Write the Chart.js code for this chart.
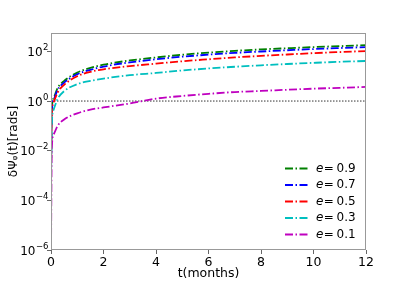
<!DOCTYPE html>
<html>
<head>
<meta charset="utf-8">
<script src="https://cdn.jsdelivr.net/npm/chart.js@4.4.0/dist/chart.umd.min.js"></script>
<style>
  html, body { margin: 0; padding: 0; background: #fff; }
</style>
</head>
<body>
<canvas id="dephaseChart" width="407" height="282"></canvas>
<script>
// time in months
const months = [0.0005, 0.03, 0.1, 0.25, 0.5, 1, 1.5, 2, 3, 4, 5, 6, 7, 8, 9, 10, 11, 12];

// dephasing (rads)
const e09 = [0.002, 0.45, 1.3, 3.3, 6.5, 14, 21.5, 29, 43, 57, 73, 89, 105, 120, 134, 149, 163, 178];
const e07 = [0.0016, 0.38, 1.1, 2.8, 5.5, 12, 18, 24.5, 36, 48, 61, 74, 87, 99, 111, 124, 136, 148];
const e05 = [0.0011, 0.28, 0.9, 2.2, 4.5, 10, 15, 19, 25.5, 32, 40, 48, 57, 66, 75, 85, 94, 103];
const e03 = [0.0005, 0.12, 0.45, 1.2, 2.5, 4.8, 6.5, 8, 11, 13.5, 17, 20.5, 24, 27.5, 31, 34.5, 38, 41];
const e01 = [0.000001, 0.012, 0.045, 0.1, 0.18, 0.32, 0.45, 0.55, 0.8, 1.25, 1.6, 1.95, 2.3, 2.55, 2.85, 3.15, 3.4, 3.7];

const eccLabels = ['0.9', '0.7', '0.5', '0.3', '0.1'];
const seriesList = [e09, e07, e05, e03, e01];
const lineColors = ['#008000', '#0000ff', '#ff0000', '#00bfbf', '#bf00bf'];

const refLevel = 1;  // dotted line at 10^0
const xTickValues = [0, 2, 4, 6, 8, 10, 12];
const yTickValues = [1e-6, 1e-4, 1e-2, 1, 1e2];
const yTickExps = ['\u22126', '\u22124', '\u22122', '0', '2'];

const FONT = 'DejaVu Sans';
const dashDot = [8, 2.5, 1.5, 2.5];

let datasets = seriesList.map((vals, i) => ({
    label: eccLabels[i],
    data: months.map((t, k) => ({ x: t, y: vals[k] })),
    borderColor: lineColors[i],
    borderWidth: 1.8,
    borderDash: dashDot,
    pointRadius: 0,
    fill: false,
    cubicInterpolationMode: 'monotone',
    order: 5 - i
}));

datasets.push({
    label: '',
    data: [{ x: xTickValues[0], y: refLevel }, { x: xTickValues[xTickValues.length - 1], y: refLevel }],
    borderColor: '#333',
    borderWidth: 1,
    borderDash: [1.5, 1.5],
    pointRadius: 0,
    fill: false,
    order: 10
});

// frame, 10^n tick labels and legend drawn by hand (legend sits inside the plot, no box)
const framePlugin = {
    id: 'framePlugin',
    afterDraw(chart) {
        const ctx = chart.ctx;
        const a = chart.chartArea;
        ctx.save();
        ctx.strokeStyle = '#999';
        ctx.lineWidth = 1;
        ctx.setLineDash([]);
        ctx.strokeRect(a.left + 0.5, a.top + 0.5, a.right - a.left - 1, a.bottom - a.top - 1);

        // y tick labels like 10^-6
        const yScale = chart.scales.y;
        ctx.fillStyle = '#000';
        ctx.textBaseline = 'alphabetic';
        ctx.textAlign = 'left';
        yTickValues.forEach((v, i) => {
            let py = yScale.getPixelForValue(v);
            ctx.font = '8.5px "' + FONT + '"';
            let we = ctx.measureText(yTickExps[i]).width;
            ctx.font = '12px "' + FONT + '"';
            let wb = ctx.measureText('10').width;
            let xr = a.left - 2.5;
            ctx.fillText('10', xr - we - wb - 0.5, py + 4.5);
            ctx.font = '8.5px "' + FONT + '"';
            ctx.fillText(yTickExps[i], xr - we, py - 1.5);
        });

        let x0 = 285, x1 = 308, y0 = 168.5, dy = 16.5, tx = 316;
        chart.data.datasets.forEach((ds, i) => {
            if (!ds.label) return;
            let y = y0 + i * dy;
            ctx.strokeStyle = ds.borderColor;
            ctx.lineWidth = ds.borderWidth;
            ctx.setLineDash(ds.borderDash);
            ctx.beginPath();
            ctx.moveTo(x0, y);
            ctx.lineTo(x1, y);
            ctx.stroke();

            ctx.setLineDash([]);
            ctx.fillStyle = '#000';
            ctx.textBaseline = 'middle';
            ctx.font = 'italic 12px "' + FONT + '"';
            ctx.fillText('e', tx, y);
            ctx.font = '12px "' + FONT + '"';
            ctx.fillText('=', tx + 7.8, y);
            ctx.fillText(ds.label, tx + 20.5, y);
        });
        ctx.restore();
    }
};

let ctx = document.getElementById('dephaseChart').getContext('2d');
let dephaseChart = new Chart(ctx, {
    type: 'line',
    data: { datasets: datasets },
    options: {
        responsive: false,
        animation: false,
        layout: { padding: { top: 33, right: 41, left: 0, bottom: 0 } },
        plugins: {
            legend: { display: false },
            tooltip: { enabled: false }
        },
        scales: {
            x: {
                type: 'linear',
                min: 0,
                max: 12,
                afterBuildTicks: s => { s.ticks = xTickValues.map(v => ({ value: v })); },
                afterFit: s => { s.height = 32; },
                ticks: {
                    autoSkip: false,
                    maxRotation: 0,
                    padding: 1,
                    color: '#000',
                    font: { family: FONT, size: 12.5 },
                    callback: v => String(v)
                },
                grid: { drawOnChartArea: false, drawTicks: true, tickLength: 4, color: '#666' },
                border: { display: false },
                title: {
                    display: true,
                    text: 't(months)',
                    color: '#000',
                    font: { family: FONT, size: 12.5 },
                    padding: { top: 0, bottom: 1 }
                }
            },
            y: {
                type: 'logarithmic',
                min: 1e-6,
                max: 550,
                afterBuildTicks: s => { s.ticks = yTickValues.map(v => ({ value: v })); },
                afterFit: s => { s.width = 51; },
                ticks: {
                    autoSkip: false,
                    padding: 1,
                    color: '#000',
                    font: { family: FONT, size: 12 },
                    callback: () => ''
                },
                grid: { drawOnChartArea: false, drawTicks: true, tickLength: 4, color: '#666' },
                border: { display: false },
                title: {
                    display: true,
                    text: 'δΨᵩ(t)[rads]',
                    color: '#000',
                    font: { family: FONT, size: 12 },
                    padding: { top: 7, bottom: 0 }
                }
            }
        }
    },
    plugins: [framePlugin]
});
</script>
</body>
</html>
